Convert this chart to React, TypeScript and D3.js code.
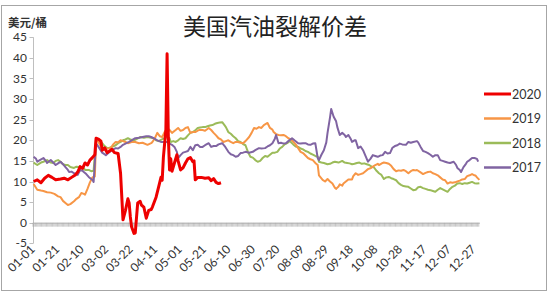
import React from "react";
import * as d3 from "d3";

// ---- data ----
const title = "美国汽油裂解价差";
const unitLabel = "美元/桶";
const yTicks = [-5, 0, 5, 10, 15, 20, 25, 30, 35, 40, 45];
const xTickLabels = ["01-01","01-21","02-10","03-02","03-22","04-11","05-01","05-21","06-10","06-30","07-20","08-09","08-29","09-18","10-08","10-28","11-17","12-07","12-27"];
const seriesNames = ["2020", "2019", "2018", "2017"];
const seriesColors = ["#ee0000", "#f79646", "#9bbb59", "#8064a2"];

// [day index (0 = 01-01), value]
const s2020: [number, number][] = [
  [0,10.0],[3,10.4],[6,9.7],[9,10.8],[12,11.5],[15,11],[18,10.4],[22,10.6],[25,10.8],[28,10.4],[31,11],[34,11.6],[36,12.3],[38,13.6],[40,13.2],[42,14.5],[44,14],[46,15.2],[48,15.8],[50,16.5],
  [51,20.5],[53,20.3],[55,19.8],[56,17.6],[58,18.2],[60,17],[62,17.4],[64,17.8],[66,17],[69,16.8],[71,12],[73,0.7],[75,3],[77,5.8],[78,4.8],[79,1.4],[80,-1],[82,-2.6],[83,-2.5],[85,4.8],
  [87,5.2],[88,4.3],[90,3.8],[92,1.1],[94,3],[96,3.2],[97,3.8],[100,6.2],[102,8.6],[104,11],[105,10.3],[106,16],[108,22.5],[109,41],[110,21],[111,12.8],[112,15.5],[113,12.5],[115,14.5],[117,16.5],
  [118,15],[120,12.8],[122,13.3],[124,14.5],[126,15.5],[128,15.8],[130,14.8],[131,15],[132,10.4],[134,11],[137,11],[140,10.8],[143,10.9],[145,10.2],[147,10.7],[149,9.8],[151,9.5],[153,9.7]
];
const s2019: [number, number][] = [
  [0,9.4],[3,8.0],[6,7.8],[8,7.7],[11,7.4],[14,7.3],[17,7],[20,6.4],[22,6.2],[24,5.3],[26,4.8],[28,4.3],[30,4.5],[33,5.2],[35,5.8],[37,6.2],[39,7.2],[41,7],[42,6.8],[44,8.2],[46,9.8],[48,11],[50,11.2],
  [51,20],[53,19.6],[55,18.4],[57,17.6],[60,18],[63,18.1],[65,19],[67,19.6],[69,19.5],[71,20],[73,19.8],[75,19.6],[77,19.3],[80,19.6],[83,19.6],[86,19.3],[89,19.4],[93,18.9],[96,19.3],[97,19.6],[99,20.5],
  [101,21.8],[103,21],[105,20.8],[107,22],[109,23],[111,22.5],[113,21.8],[116,22.5],[118,23],[120,22.3],[122,22.5],[124,23],[126,23.2],[128,21.8],[130,22],[132,22],[135,22.5],[138,22.5],[140,22.3],[143,23],
  [145,22.5],[147,21.8],[149,21.2],[151,20.5],[153,20.2],[155,19.6],[157,19.8],[159,20],[161,19.6],[163,19.3],[165,19.6],[167,19.6],[169,19.4],[171,19.3],[173,19.8],[176,20.8],[178,21.8],[180,23],[182,22.8],
  [184,23.2],[186,23],[188,23.7],[191,24.2],[193,23],[195,22.6],[196,22],[198,21.5],[200,21.3],[202,21.2],[204,21.3],[206,21],[208,20.5],[210,20.2],[211,20],[214,19],[216,18.1],[218,17.2],[220,16.9],
  [222,16.3],[224,15.7],[226,15.4],[228,15.2],[230,14.5],[232,14],[233,11.5],[236,10.4],[238,10],[240,10.6],[242,10],[244,9.5],[246,8.5],[247,8.2],[249,8.8],[250,9.3],[252,9],[253,9.5],[255,10],
  [257,10.5],[260,10.5],[261,11.3],[263,12],[265,11.6],[267,11.8],[269,12],[271,12.5],[273,13],[275,13.2],[277,13.6],[279,14],[281,14.3],[282,14],[285,14.5],[286,14.6],[288,14.5],[290,14.3],[292,13.8],
  [294,13],[296,12.5],[298,12.7],[300,12.6],[302,12.8],[304,12.5],[306,12],[308,12.5],[310,12.8],[312,12.7],[313,12.8],[316,12.2],[318,11.8],[320,12.1],[322,12.3],[324,12.4],[326,12],[328,11.8],
  [330,11.5],[332,11],[334,10.5],[336,10.3],[338,9.5],[340,9.8],[342,9.7],[344,9.8],[346,10],[348,10.2],[350,10.5],[352,10.6],[354,11.3],[356,11.5],[358,11.8],[360,11.5],[361,11.4],[362,11],[364,10.4]
];
const s2018: [number, number][] = [
  [0,14.6],[3,14],[6,14.6],[8,14.8],[11,15.2],[14,14.6],[16,14.5],[18,15],[20,15.2],[22,14.8],[24,14.2],[26,14],[28,14],[30,13.5],[33,13.3],[35,13.6],[37,13.5],[39,13.2],[41,13.3],[42,12.8],[45,12.8],
  [47,12.5],[49,12.6],[51,20.5],[53,20],[55,19.5],[56,19.3],[58,18.6],[60,18.1],[62,18.2],[64,18.4],[67,18.8],[69,19.3],[71,19.6],[73,20],[75,20.2],[77,20.5],[79,20.2],[82,20],[84,20.3],[87,20.8],
  [90,20.6],[93,20.8],[96,20.6],[98,20.5],[100,20],[102,19.8],[104,20.1],[106,20.4],[109,20.8],[111,20.5],[112,19.6],[114,19.8],[116,19.6],[118,20],[120,20.5],[122,20.3],[124,20.5],[126,21.2],
  [128,21.8],[130,22],[132,22.4],[134,23],[136,23.1],[138,23.2],[140,23.2],[142,23.4],[144,23.6],[146,23.7],[148,24],[150,24.2],[152,24.3],[154,24.4],[156,23.6],[157,23.2],[159,22],[161,21.6],
  [163,21],[165,20.5],[167,19.8],[169,19.6],[171,19.1],[173,18.8],[175,17.2],[177,16],[179,15.8],[181,15.2],[183,14.8],[185,15],[187,15.7],[189,16.2],[191,16],[193,16.5],[195,17],[197,17],
  [199,17.2],[201,18],[203,18.4],[205,19],[207,19.3],[209,19.8],[210,19.6],[212,19],[214,18.5],[216,18.4],[218,18],[220,17.8],[222,17.4],[224,17.2],[226,16.8],[228,16.5],[230,16.2],[232,16],
  [233,14.8],[235,14.6],[237,14.5],[240,14.2],[242,14.3],[244,14.6],[246,14.8],[249,14.6],[252,15],[254,14.6],[256,14.5],[258,14.4],[260,14.2],[262,14.3],[264,14.5],[266,14.6],[268,14.3],
  [270,14.4],[272,14.2],[274,14],[276,13.6],[278,13.4],[280,12.6],[282,12],[284,11.6],[286,10.6],[288,11],[290,11.1],[292,10.8],[294,10.6],[296,10.3],[298,9.6],[300,9.2],[302,8.9],[304,8.8],
  [306,8.7],[308,8.3],[310,7.9],[312,8],[314,8.6],[316,8.7],[318,8.4],[320,8.2],[322,8],[324,7.9],[326,7.7],[328,7.5],[330,8],[332,8.4],[334,8.1],[336,7.8],[338,7.5],[340,8.2],[342,8.7],
  [344,9],[346,9.5],[348,9.6],[350,9.4],[352,9.6],[354,9.5],[356,9.7],[358,9.9],[360,9.6],[362,9.5],[364,9.6]
];
const s2017: [number, number][] = [
  [0,16],[2,15.5],[3,14.8],[5,15.2],[8,15.7],[10,15],[11,14.5],[14,15.2],[16,14.6],[18,14],[20,14.4],[22,14.8],[24,14.2],[26,13.5],[28,12.8],[29,12.3],[31,12.4],[33,12],[36,11.6],[38,12.8],
  [40,12.6],[41,12.3],[43,11.8],[45,11.1],[47,10.6],[48,10.4],[49,9.9],[51,19.3],[53,18.4],[56,17],[59,16.4],[61,16.9],[64,17.6],[67,18.1],[69,18],[71,18.4],[73,18.9],[75,19.2],[78,19.6],
  [80,20],[83,20.5],[86,20.6],[89,20.8],[92,21],[94,21],[96,20.8],[98,20.5],[101,20],[104,19.6],[107,19.6],[109,19.6],[111,19.2],[113,18.9],[115,18.4],[117,17.2],[118,15.7],[120,16.4],
  [122,17],[124,17.2],[126,17.4],[128,18.4],[130,17.6],[132,18.8],[134,18.9],[136,18.4],[138,18.4],[140,18.8],[143,19.3],[145,18.4],[147,18.6],[149,18.6],[151,19],[154,19.3],[156,18.6],
  [159,17.2],[161,16.6],[163,16.4],[165,16],[167,16.2],[169,16.9],[171,17],[173,17.2],[176,17],[179,17.2],[181,17.6],[184,18.1],[186,18],[189,18.1],[191,18.5],[193,18.8],[195,19.3],[197,20.4],
  [198,21.3],[200,19.3],[202,19.4],[204,19.2],[206,19.3],[208,19.8],[211,20.5],[213,20],[216,19.3],[218,19.2],[220,19.3],[222,19.3],[224,19],[226,18.9],[228,19.2],[230,19.3],[232,15.7],
  [233,15.2],[235,16.5],[237,17.6],[239,19.5],[240,21.8],[242,25.5],[243,27.6],[245,25.7],[247,24.6],[248,23.2],[250,21.3],[252,21.8],[254,21.3],[255,20.8],[257,21.3],[259,20.3],[260,19.6],
  [262,20],[263,20],[265,18.1],[267,18.5],[269,17.6],[271,16.2],[273,14.8],[275,15.5],[277,16.4],[279,16.2],[281,16],[283,16.3],[285,16.4],[287,17.2],[289,16.8],[291,16.9],[293,18.2],
  [295,18.6],[297,18.8],[299,19.2],[301,19],[304,18.9],[306,19.6],[308,19.4],[310,19.6],[313,19.8],[314,19.5],[316,18.4],[318,17.4],[320,17.2],[322,16.9],[324,16.5],[326,16],[328,16.4],
  [330,16.4],[332,15.2],[334,15],[336,14.8],[338,14.6],[340,14.5],[343,14.8],[345,14],[346,13.3],[348,12.8],[349,12.3],[351,13.5],[353,14.3],[354,14.8],[356,15.2],[358,15.7],[360,15.7],
  [362,15.5],[363,14.8]
];

const categories = d3.timeDay
  .range(new Date(2019, 0, 1), new Date(2020, 0, 1))
  .map(d3.timeFormat("%m-%d"));

export default function App() {
  const W = 550, H = 293;
  const x = d3.scaleLinear().domain([0, categories.length - 1]).range([33.6, 479.4]);
  const y = d3.scaleLinear().domain([-5, 45]).range([243.3, 37.3]);
  const line = d3.line<[number, number]>().x(d => x(d[0])).y(d => y(d[1]));
  const fontNum = "Lato, 'Liberation Sans', sans-serif";
  const fontCJK = "'Noto Sans CJK SC', sans-serif";
  const bandW = (x.range()[1] - x.range()[0]) / (categories.length - 1);

  const series = [
    { name: "2018", data: s2018, color: seriesColors[2], w: 2 },
    { name: "2019", data: s2019, color: seriesColors[1], w: 2 },
    { name: "2017", data: s2017, color: seriesColors[3], w: 2 },
    { name: "2020", data: s2020, color: seriesColors[0], w: 3 },
  ];

  return (
    <svg width={W} height={H} style={{ position: "absolute", left: 0, top: 0, background: "#fff" }}>
      <rect x={0} y={0} width={W} height={H} fill="#fff" />
      <rect x={1.5} y={5.5} width={545} height={285} fill="none" stroke="#a6a6a6" />
      <text x={275} y={35} textAnchor="middle" fontFamily={fontCJK} fontSize={23} fill="#222">{title}</text>
      <text x={8} y={27} fontFamily={fontCJK} fontSize={11.5} fontWeight={700} fill="#333">{unitLabel}</text>
      {/* y axis */}
      <line x1={33.5} x2={33.5} y1={y(45)} y2={y(-5)} stroke="#bfbfbf" />
      {yTicks.map(t => (
        <g key={t}>
          <line x1={29.5} x2={33.5} y1={Math.round(y(t)) + 0.5} y2={Math.round(y(t)) + 0.5} stroke="#bfbfbf" />
          <text x={27} y={y(t) + 4} textAnchor="end" fontFamily={fontNum} fontSize={12} fill="#333">{t}</text>
        </g>
      ))}
      {/* x axis at 0 with category ticks */}
      <line x1={33.5} x2={480} y1={y(0) + 0.5} y2={y(0) + 0.5} stroke="#bfbfbf" />
      {categories.map((c, i) => (
        <line key={c} x1={x(i) - bandW / 2} x2={x(i) - bandW / 2} y1={y(0)} y2={y(0) + 4} stroke="#a0a0a0" strokeWidth={0.6} />
      ))}
      {xTickLabels.map(lbl => {
        const i = categories.indexOf(lbl);
        const px = x(i) + 2;
        const py = 250;
        return (
          <text key={lbl} x={px} y={py} textAnchor="end" fontFamily={fontNum} fontSize={12} fill="#333"
            transform={`rotate(-45 ${px} ${py})`}>{lbl}</text>
        );
      })}
      {/* series */}
      {series.map(s => (
        <path key={s.name} d={line(s.data) || ""} fill="none" stroke={s.color} strokeWidth={s.w} strokeLinejoin="round" />
      ))}
      {/* legend */}
      {seriesNames.map((n, i) => {
        const ly = 94 + i * 24.5;
        return (
          <g key={n}>
            <line x1={484} x2={511} y1={ly} y2={ly} stroke={seriesColors[i]} strokeWidth={i === 0 ? 3 : 2.5} />
            <text x={512} y={ly + 4.5} fontFamily={fontNum} fontSize={12.5} fill="#333">{n}</text>
          </g>
        );
      })}
    </svg>
  );
}
